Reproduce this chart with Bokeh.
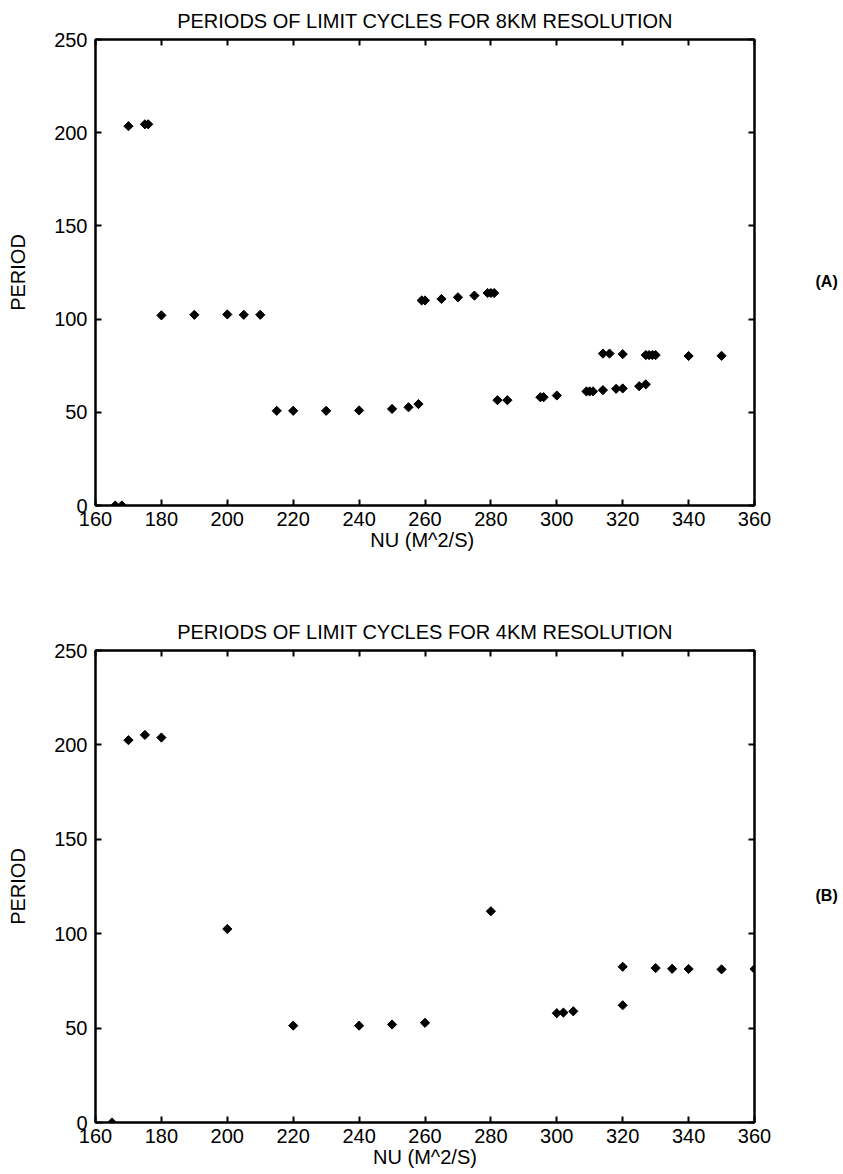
from bokeh.plotting import figure
from bokeh.models import Range1d, LinearAxis, FixedTicker, ColumnDataSource
from bokeh.layouts import column
from bokeh.embed import file_html
from bokeh.resources import INLINE

# ---- data: panel (A), 8 km resolution ----
nu_8km = [166, 168, 170, 175, 176, 180, 190, 200, 205, 210,
          215, 220, 230, 240, 250, 255, 258,
          259, 260, 265, 270, 275, 279, 280, 281,
          282, 285, 295, 296, 300, 309, 310, 311, 314, 318, 320, 325, 327,
          314, 316, 320, 327, 328, 329, 330, 340, 350]
period_8km = [0, 0, 203.5, 204.5, 204.5, 102, 102.3, 102.5, 102.3, 102.3,
              50.8, 50.8, 50.8, 51, 51.8, 52.7, 54.4,
              110, 110, 110.8, 111.7, 112.6, 114, 114, 114,
              56.5, 56.5, 58.1, 58.1, 59, 61.2, 61.2, 61.2, 61.9, 62.6, 62.8, 64, 65,
              81.5, 81.5, 81.2, 80.7, 80.7, 80.7, 80.7, 80.2, 80.3]

# ---- data: panel (B), 4 km resolution ----
nu_4km = [165, 170, 175, 180, 200, 220, 240, 250, 260, 280,
          300, 302, 305, 320, 320, 330, 335, 340, 350, 360]
period_4km = [0, 202.5, 205.3, 203.9, 102.5, 51.3, 51.3, 51.9, 52.8, 111.9,
              57.9, 58.2, 58.9, 62.1, 82.5, 81.8, 81.4, 81.3, 81.1, 81.3]

x_ticks = [160, 180, 200, 220, 240, 260, 280, 300, 320, 340, 360]
y_ticks = [0, 50, 100, 150, 200, 250]

FONT = "Liberation Sans"


def make_panel(title, xlabel, xs, ys, tag, height, border_top, border_bottom, tag_y):
    p = figure(width=840, height=height, output_backend="svg", toolbar_location=None,
               x_range=Range1d(160, 360), y_range=Range1d(0, 250),
               min_border_left=95, min_border_right=80,
               min_border_top=border_top, min_border_bottom=border_bottom,
               title=title)
    p.title.text_font = FONT
    p.title.text_font_size = "20px"
    p.title.text_font_style = "normal"
    p.title.text_color = "black"
    p.title.align = "center"
    p.title.offset = 0
    p.title.standoff = 15
    p.grid.visible = False
    p.outline_line_color = "black"
    p.outline_line_width = 2
    p.background_fill_color = "white"
    p.border_fill_color = "white"

    for ax in [p.xaxis[0], p.yaxis[0]]:
        ax.major_tick_in = 6
        ax.major_tick_out = 0
        ax.minor_tick_line_color = None
        ax.axis_line_width = 2
        ax.axis_line_color = "black"
        ax.major_tick_line_width = 2
        ax.major_tick_line_color = "black"
        ax.major_label_text_font = FONT
        ax.major_label_text_font_size = "20px"
        ax.major_label_text_color = "black"
        ax.axis_label_text_font = FONT
        ax.axis_label_text_font_size = "20px"
        ax.axis_label_text_font_style = "normal"
        ax.axis_label_text_color = "black"
    p.xaxis[0].ticker = FixedTicker(ticks=x_ticks)
    p.yaxis[0].ticker = FixedTicker(ticks=y_ticks)
    p.xaxis[0].axis_label = xlabel
    p.xaxis[0].major_label_standoff = 6
    p.xaxis[0].axis_label_standoff = 0
    p.yaxis[0].axis_label = "PERIOD"
    p.yaxis[0].major_label_standoff = 8
    p.yaxis[0].axis_label_standoff = 22

    top = LinearAxis(ticker=FixedTicker(ticks=x_ticks), major_label_text_color=None,
                     major_label_text_font_size="1px", major_label_standoff=0,
                     major_tick_in=6, major_tick_out=0, minor_tick_line_color=None,
                     axis_line_width=2, major_tick_line_width=2)
    right = LinearAxis(ticker=FixedTicker(ticks=y_ticks), major_label_text_color=None,
                       major_label_text_font_size="1px", major_label_standoff=0,
                       major_tick_in=6, major_tick_out=0, minor_tick_line_color=None,
                       axis_line_width=2, major_tick_line_width=2)
    p.add_layout(top, "above")
    p.add_layout(right, "right")

    # panel tag, e.g. "(A)", placed as the only label of a bare right-hand axis
    tag_axis = LinearAxis(ticker=FixedTicker(ticks=[tag_y]),
                          major_label_overrides={tag_y: tag},
                          major_label_text_font=FONT, major_label_text_font_size="16px",
                          major_label_text_font_style="bold", major_label_text_color="black",
                          major_label_standoff=55, axis_line_color=None,
                          major_tick_line_color=None, minor_tick_line_color=None)
    p.add_layout(tag_axis, "right")

    src = ColumnDataSource(data=dict(x=xs, y=ys))
    p.scatter("x", "y", source=src, marker="square", angle=0.785398, size=6.5,
              fill_color="black", line_color="black")
    return p


p1 = make_panel("PERIODS OF LIMIT CYCLES FOR 8KM RESOLUTION", "NU  (M^2/S)",
                nu_8km, period_8km, "(A)", 610, 35, 105, 120)
p2 = make_panel("PERIODS OF LIMIT CYCLES FOR 4KM RESOLUTION", "NU (M^2/S)",
                nu_4km, period_4km, "(B)", 560, 40, 46, 120)

layout = column(p1, p2, spacing=0)
open("out.html", "w").write(file_html(layout, INLINE))
